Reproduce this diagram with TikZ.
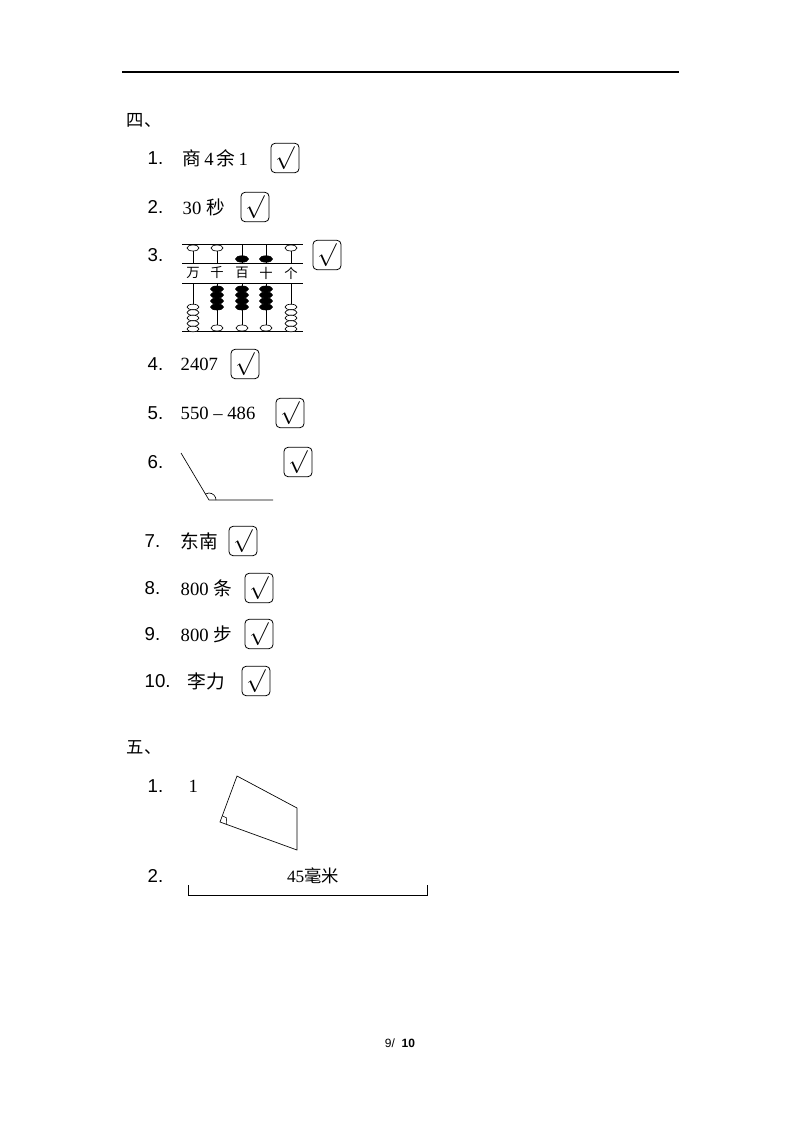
\documentclass[tikz,border=0pt]{standalone}
\usepackage{fontspec}
\usetikzlibrary{calc}
\setmainfont{Liberation Serif}
\newfontfamily\lsans{Liberation Sans}
\newfontfamily\cjk{Noto Sans CJK SC}
\begin{document}
\begin{tikzpicture}[x=0.75pt,y=-0.75pt,
  num/.style={anchor=west,font=\lsans\fontsize{14}{14}\selectfont},
  val/.style={anchor=west,font=\fontsize{14}{14}\selectfont},
  chk/.style={draw,rounded corners=3pt,minimum width=21pt,minimum height=22pt,inner sep=0pt,font=\fontsize{17}{17}\selectfont,line width=0.6pt},
  eb/.style={draw,fill=white,line width=0.5pt},
  bb/.style={draw,fill=black,line width=0.5pt},
  ln/.style={line width=0.6pt}]
\useasboundingbox (0,0) rectangle (800,1132);
\draw[line width=0.8pt] (122,72) -- (679,72);
\node[anchor=west,font=\cjk\fontsize{13}{13}\selectfont] (h4) at (122,120) {四、};
\node[anchor=west,font=\cjk\fontsize{13}{13}\selectfont] (h5) at (122,748) {五、};
% items
\node[num] (n1) at (143,158) {1.};
\node[val] (v1) at (178,158) {{\cjk 商}\,4\,{\cjk 余}\,1};
\node[chk] (c1) at (285,158) {$\surd$};
\node[num] (n2) at (143,207) {2.};
\node[val] (v2) at (178,207) {30 {\cjk 秒}};
\node[chk] (c2) at (255,207) {$\surd$};
\node[num] (n3) at (143,255) {3.};
\node[chk] (c3) at (327,255) {$\surd$};
\node[num] (n4) at (143,364) {4.};
\node[val] (v4) at (176,364) {2407};
\node[chk] (c4) at (245,364) {$\surd$};
\node[num] (n5) at (143,413) {5.};
\node[val] (v5) at (176,413) {550 -- 486};
\node[chk] (c5) at (290,413) {$\surd$};
\node[num] (n6) at (143,462) {6.};
\node[chk] (c6) at (298,462) {$\surd$};
\node[num] (n7) at (140,541) {7.};
\node[val] (v7) at (176,541) {\cjk 东南};
\node[chk] (c7) at (243,541) {$\surd$};
\node[num] (n8) at (140,588) {8.};
\node[val] (v8) at (176,588) {800 {\cjk 条}};
\node[chk] (c8) at (259,588) {$\surd$};
\node[num] (n9) at (140,634) {9.};
\node[val] (v9) at (176,634) {800 {\cjk 步}};
\node[chk] (c9) at (259,634) {$\surd$};
\node[num] (n10) at (140,681) {10.};
\node[val] (v10) at (183,681) {\cjk 李力};
\node[chk] (c10) at (256,681) {$\surd$};
% abacus
\foreach \x in {193,217,242,266,291} {\draw[line width=0.5pt] (\x,244) -- (\x,263); \draw[line width=0.5pt] (\x,283) -- (\x,331);}
\draw[ln] (182,244) -- (303,244);
\draw[ln] (182,263) -- (303,263);
\draw[ln] (182,283) -- (303,283);
\draw[ln] (182,331) -- (303,331);
\foreach \x/\t in {193/万,217/千,242/百,266/十,291/个} \node[font=\cjk\fontsize{10}{10}\selectfont,inner sep=0pt] (t\x) at (\x,273) {\t};
\foreach \x in {193,217,291} \draw[eb] (\x,248) ellipse (6 and 3);
\foreach \x in {242,266} \draw[bb] (\x,259) ellipse (6.5 and 3.2);
\foreach \x in {217,242,266} {\foreach \y in {289,295,301,307} \draw[bb] (\x,\y) ellipse (6.5 and 3); \draw[eb] (\x,328) ellipse (6 and 3);}
\foreach \x in {193,291} \foreach \y in {307,312.5,318,323.5,329} \draw[eb] (\x,\y) ellipse (6 and 2.8);
% angle
\coordinate (a1) at (181,453); \coordinate (av) at (209,500); \coordinate (a2) at (273,500);
\draw[line width=0.5pt] (a1) -- (av) -- (a2);
\draw[line width=0.5pt] ($(av)+(7,0)$) arc[start angle=0,end angle=-120,radius=7];
% section 5
\node[num] (m1) at (143,786) {1.};
\node[val] (w1) at (184,786) {1};
\coordinate (q1) at (237,776); \coordinate (q2) at (297,808); \coordinate (q3) at (297,850); \coordinate (q4) at (220,822);
\draw[line width=0.5pt] (q1) -- (q2) -- (q3) -- (q4) -- cycle;
\draw[line width=0.4pt] ($(q4)!5pt!(q1)$) -- ++(4.3,2.2) -- ($(q4)!5pt!(q3)$);
\node[num] (m2) at (143,876) {2.};
\coordinate (s1) at (188,895); \coordinate (s2) at (427,895);
\draw[line width=0.6pt] ($(s1)+(0,-10)$) -- (s1) -- (s2) -- ($(s2)+(0,-10)$);
\node[font=\fontsize{13}{13}\selectfont] (sl) at (313,876) {45{\cjk 毫米}};
\node[font=\lsans\fontsize{9}{9}\selectfont] (pg) at (400,1043) {9/\ \ \textbf{10}};
\end{tikzpicture}
\end{document}
